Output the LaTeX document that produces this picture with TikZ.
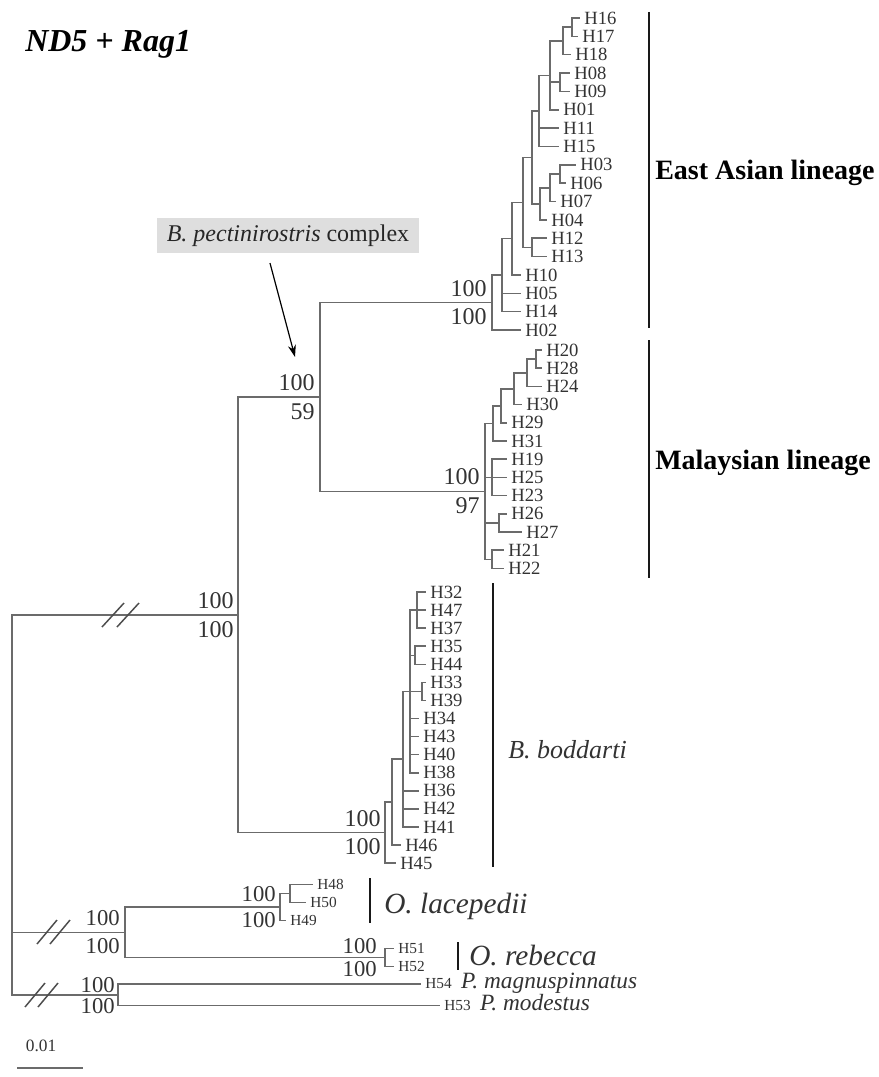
\documentclass[tikz,border=0pt]{standalone}
\usepackage{fontspec}
\setmainfont{Liberation Serif}
\usetikzlibrary{arrows.meta,calc,positioning}

\tikzset{
  branch/.style={line width=1.2pt, draw=black!58},
  leaf/.style={anchor=west, inner xsep=3pt, inner ysep=0pt, text=black!80, font=\fontsize{14}{14}\selectfont},
  leafsm/.style={leaf, font=\fontsize{11.5}{11.5}\selectfont},
  boot/.style={inner sep=0pt, text=black!80, font=\fontsize{18}{18}\selectfont},
  bootup/.style={boot, anchor=south east},
  bootdn/.style={boot, anchor=north east},
  bootsm/.style={font=\fontsize{17}{17}\selectfont},
  cladebar/.style={line width=2.2pt, draw=black!90},
  lineage/.style={anchor=base west, inner sep=0pt, font=\fontsize{21}{21}\selectfont\bfseries},
  species/.style={anchor=base west, inner sep=0pt, text=black!80, font=\fontsize{19.5}{19.5}\selectfont\itshape},
  breakmark/.style={line width=1.1pt, draw=black!70},
  callout/.style={fill=black!13, inner xsep=7pt, minimum height=26pt, text=black!85, font=\fontsize{18}{18}\selectfont},
}

\begin{document}
\begin{tikzpicture}[x=0.75pt, y=-0.75pt]
\useasboundingbox (0,0) rectangle (878,1077);

% inner nodes of the tree
\foreach \n/\x/\y in {nRoot/12/804.4, nBig/238/614.8, nBP/320/397.0,
  nEA/492/302.5, nA/502/275.1, nB/512/238.6, nC/523/202.4, nD/532/157.4, nE/539/111.0,
  nG/550/75.4, nH/563/41.0, n1617/572/27.2, n0809/560/82.3, nF/540/203.8, nI/550/187.7,
  n0306/560/174.0, n1213/532/247.4,
  nMal/485/491.4, nM1/493/423.4, nM2/501/405.8, nM3/514/388.7, nM4/527/372.8, n2028/536/359.1,
  n192523/492/477.4, n2627/499/522.9, n2122/492/559.3,
  nBod/385/832.6, nBb1/392/802.1, nBb2/403/759.2, nBb3/410/691.4, n324737/417/610.1,
  n3544/415/655.3, n3339/422/691.4,
  nO/125/932.3, nOlac/280/907.0, n4850/290/893.5, n5152/385/957.5, nP/118/994.8}
  \coordinate (\n) at (\x,\y);

\foreach \p/\c in {nRoot/nBig, nRoot/nO, nRoot/nP, nBig/nBP, nBig/nBod, nBP/nEA, nBP/nMal,
  nEA/nA, nA/nB, nB/nC, nC/nD, nC/n1213, nD/nE, nD/nF, nE/nG, nG/nH, nG/n0809, nH/n1617,
  nF/nI, nI/n0306, nMal/nM1, nMal/n192523, nMal/n2627, nMal/n2122, nM1/nM2, nM2/nM3,
  nM3/nM4, nM4/n2028, nBod/nBb1, nBb1/nBb2, nBb2/nBb3, nBb3/n324737, nBb3/n3544,
  nBb3/n3339, nO/nOlac, nO/n5152, nOlac/n4850}
  \draw[branch] (\p) |- (\c);

% haplotypes
\foreach \n/\p/\x/\y in {H16/n1617/580/18.0, H17/n1617/578/36.4, H18/nH/571/54.7,
  H08/n0809/570/73.1, H09/n0809/570/91.4, H01/nG/559/109.8, H11/nE/559/128.1,
  H15/nE/559/146.5, H03/n0306/576/164.8, H06/n0306/566/183.2, H07/nI/556/201.5,
  H04/nF/547/219.9, H12/n1213/547/238.2, H13/n1213/547/256.6, H10/nB/521/274.9,
  H05/nA/521/293.3, H14/nA/521/311.6, H02/nEA/521/330.0,
  H20/n2028/542/350.0, H28/n2028/542/368.2, H24/nM4/542/386.4, H30/nM3/522/404.6,
  H29/nM2/507/422.8, H31/nM1/507/441.0, H19/n192523/507/459.2, H25/n192523/507/477.4,
  H23/n192523/507/495.6, H26/n2627/507/513.8, H27/n2627/522/532.0, H21/n2122/504/550.2,
  H22/n2122/504/568.4,
  H32/n324737/426/592.0, H47/n324737/426/610.1, H37/n324737/426/628.1, H35/n3544/426/646.2,
  H44/n3544/426/664.3, H33/n3339/426/682.4, H39/n3339/426/700.4, H34/nBb3/419/718.5,
  H43/nBb3/419/736.6, H40/nBb3/419/754.6, H38/nBb3/419/772.7, H36/nBb2/419/790.8,
  H42/nBb2/419/808.8, H41/nBb2/419/826.9, H46/nBb1/401/845.0, H45/nBod/396/863.1}
{
  \node[leaf] (\n) at (\x,\y) {\n};
  \draw[branch] (\p) |- (\n.west);
}
\foreach \n/\p/\x/\y in {H48/n4850/313/884.5, H50/n4850/306/902.5, H49/nOlac/286/920.5,
  H51/n5152/394/948.5, H52/n5152/394/966.5, H54/nP/421/984.0, H53/nP/440/1005.5}
{
  \node[leafsm] (\n) at (\x,\y) {\n};
  \draw[branch] (\p) |- (\n.west);
}

% support values
\node[bootup] (sEAa) at ($(nEA)+(-5,-6)$) {100};
\node[bootdn] (sEAb) at ($(nEA)+(-5,6)$) {100};
\node[bootup] (sMala) at ($(nMal)+(-5,-6)$) {100};
\node[bootdn] (sMalb) at ($(nMal)+(-5,6)$) {97};
\node[bootup] (sBPa) at ($(nBP)+(-5,-6)$) {100};
\node[bootdn] (sBPb) at ($(nBP)+(-5,6)$) {59};
\node[bootup] (sBiga) at ($(nBig)+(-4,-6)$) {100};
\node[bootdn] (sBigb) at ($(nBig)+(-4,6)$) {100};
\node[bootup] (sBoda) at ($(nBod)+(-4,-6)$) {100};
\node[bootdn] (sBodb) at ($(nBod)+(-4,6)$) {100};
\node[bootup, bootsm] (sOlaca) at ($(nOlac)+(-4,-5)$) {100};
\node[bootdn, bootsm] (sOlacb) at ($(nOlac)+(-4,5)$) {100};
\node[bootup, bootsm] (sOreba) at ($(n5152)+(-8,-4)$) {100};
\node[bootdn, bootsm] (sOrebb) at ($(n5152)+(-8,4)$) {100};
\node[bootup, bootsm] (sOa) at ($(nO)+(-5,-6)$) {100};
\node[bootdn, bootsm] (sOb) at ($(nO)+(-5,6)$) {100};
\node[bootup, bootsm] (sPa) at ($(nP)+(-3,-2)$) {100};
\node[bootdn, bootsm] (sPb) at ($(nP)+(-3,3)$) {100};

% broken branches
\foreach \x in {113,128} \draw[breakmark] (\x-11,627) -- (\x+11,603);
\foreach \x in {47,60} \draw[breakmark] (\x-10,944) -- (\x+10,920);
\foreach \x in {35,48} \draw[breakmark] (\x-10,1007) -- (\x+10,983);

% clades
\draw[cladebar] (649,12) -- (649,328);
\draw[cladebar] (649,340) -- (649,578);
\draw[cladebar] (493,583) -- (493,867);
\draw[cladebar] (370,878) -- (370,923);
\draw[cladebar] (458,942) -- (458,970);
\node[lineage] (eastasia) at (655,180) {East Asian lineage};
\node[lineage] (malaysia) at (655,469) {Malaysian lineage};
\node[species] (boddarti) at (508,758) {B. boddarti};
\node[species, font=\fontsize{22}{22}\selectfont\itshape] (lacepedii) at (384,913) {O. lacepedii};
\node[species, font=\fontsize{22}{22}\selectfont\itshape] (rebecca) at (469,965) {O. rebecca};
\node[species, font=\fontsize{17.5}{17.5}\selectfont\itshape] (magnus) at ($(H54.base east)+(5,0)$) {P. magnuspinnatus};
\node[species, font=\fontsize{17.5}{17.5}\selectfont\itshape] (modestus) at ($(H53.base east)+(5,0)$) {P. modestus};

% title, call-out and scale
\node[anchor=base west, inner sep=0pt, font=\fontsize{24}{24}\selectfont\bfseries\itshape] (title) at (25,52) {ND5 + Rag1};
\node[callout] (complex) at (288,235.5) {\textit{B. pectinirostris} complex};
\coordinate (pointer) at (295,357);
\draw[line width=0.9pt, -{Stealth[length=9pt,width=6pt]}] ($(complex.south)+(-18,10)$) -- (pointer);
\node[inner sep=0pt, text=black!80, font=\fontsize{13}{13}\selectfont] (scalelab) at (41,1046) {0.01};
\draw[branch] (17,1068) -- (83,1068);
\end{tikzpicture}
\end{document}
